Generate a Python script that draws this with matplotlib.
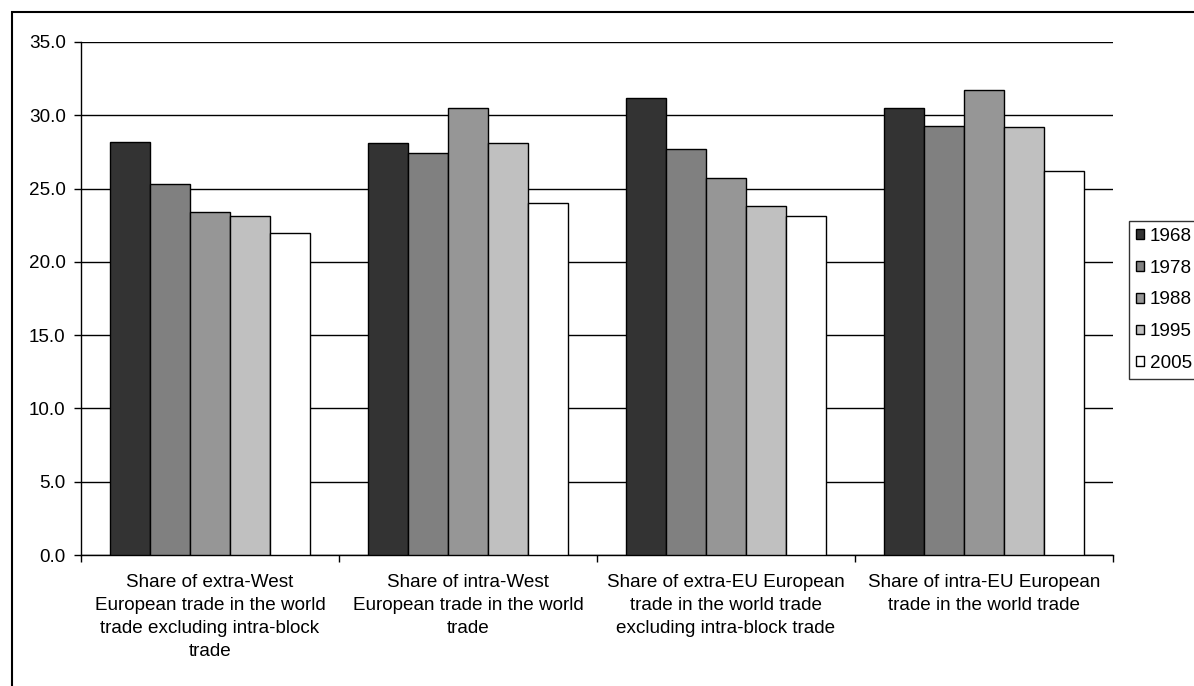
import numpy as np
import matplotlib
matplotlib.use("Agg")
import matplotlib.pyplot as plt
from matplotlib.patches import Rectangle

plt.rcParams['font.family'] = ['Liberation Sans', 'DejaVu Sans']

## data (percent)

categories = [
    "Share of extra-West\nEuropean trade in the world\ntrade excluding intra-block\ntrade",
    "Share of intra-West\nEuropean trade in the world\ntrade",
    "Share of extra-EU European\ntrade in the world trade\nexcluding intra-block trade",
    "Share of intra-EU European\ntrade in the world trade",
]
years = ["1968", "1978", "1988", "1995", "2005"]
v1968 = [28.2, 28.1, 31.2, 30.5]
v1978 = [25.3, 27.4, 27.7, 29.3]
v1988 = [23.4, 30.5, 25.7, 31.7]
v1995 = [23.1, 28.1, 23.8, 29.2]
v2005 = [22.0, 24.0, 23.1, 26.2]
series = [v1968, v1978, v1988, v1995, v2005]
colours = ["#333333", "#808080", "#969696", "#c0c0c0", "#ffffff"]

W, H = 1194, 686
fig = plt.figure(figsize=(W / 100, H / 100), dpi=100)
ax = fig.add_axes([81 / W, 1 - 555 / H, (1113 - 81) / W, (555 - 42) / H])

fs = 13.6
x = np.arange(len(categories))
bw = 0.155
for i, (vals, c) in enumerate(zip(series, colours)):
    ax.bar(x + (i - 2) * bw, vals, width=bw, color=c, edgecolor="black",
           linewidth=1.0, label=years[i], zorder=3)

ax.set_ylim(0, 35)
ax.set_xlim(-0.5, len(categories) - 0.5)
ax.set_yticks(np.arange(0, 35.1, 5))
ax.set_yticklabels([f"{t:.1f}" for t in np.arange(0, 35.1, 5)], fontsize=fs)
ax.yaxis.grid(True, color="black", linewidth=1.0, zorder=0)
ax.set_axisbelow(True)

# ticks between categories, labels centred under groups
ax.set_xticks(np.arange(-0.5, len(categories), 1.0))
ax.set_xticklabels([])
ax.set_xticks(x, minor=True)
ax.set_xticklabels(categories, minor=True, fontsize=fs, linespacing=1.46)
ax.tick_params(axis="x", which="minor", length=0, pad=13.5)
ax.tick_params(axis="x", which="major", length=5, width=1.0, direction="out")
ax.tick_params(axis="y", length=5, width=1.0, direction="out", pad=6)

for s in ["top", "right"]:
    ax.spines[s].set_visible(False)
for s in ["left", "bottom"]:
    ax.spines[s].set_linewidth(1.0)

# chart area border (runs off the right and bottom edge)
fig.patches.append(Rectangle((12 / W, -0.05), 1.1, 1 - 12 / H + 0.05,
                             transform=fig.transFigure, fill=False,
                             edgecolor="black", linewidth=1.5))

leg = fig.legend(loc="upper left", bbox_to_anchor=(1129 / W, 1 - 221 / H),
                 bbox_transform=fig.transFigure, borderaxespad=0,
                 fontsize=fs, frameon=True, fancybox=False,
                 handlelength=0.42, handleheight=0.42, handletextpad=0.3,
                 labelspacing=0.78, borderpad=0.37)
leg.get_frame().set_edgecolor("black")
leg.get_frame().set_linewidth(1.0)

fig.savefig("out.png", dpi=100)
